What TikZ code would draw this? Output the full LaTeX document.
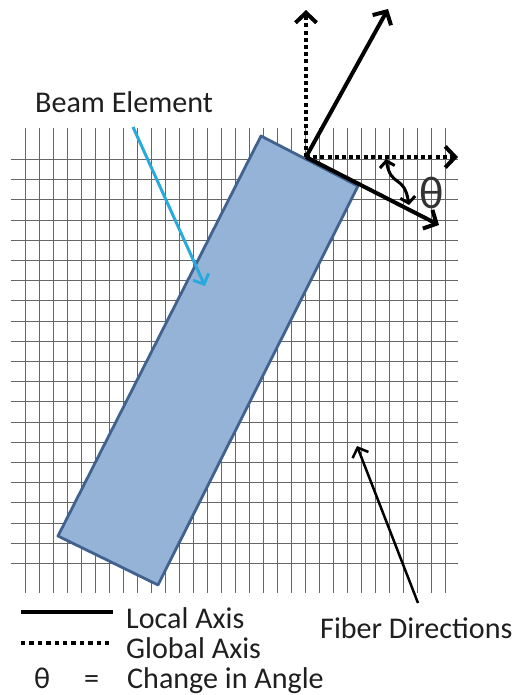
\documentclass[tikz,border=0pt]{standalone}
\usepackage{fontspec}
\setmainfont{Carlito}
\usetikzlibrary{arrows.meta}
\definecolor{beamfill}{HTML}{95B3D7}
\definecolor{beamedge}{HTML}{41628F}
\definecolor{beamarrow}{HTML}{2AA9DC}
\definecolor{gridline}{HTML}{666666}
\tikzset{
  gridrule/.style={draw=gridline,line width=0.9bp},
  barb/.style={-{Straight Barb[length=10bp,width=21bp,line width=4bp]}},
  localaxis/.style={line width=4bp,barb},
  globalaxis/.style={line width=4bp,dash pattern=on 4bp off 3.2bp,barb},
  label/.style={inner sep=0pt,anchor=base west,text=black!88,font=\fontsize{30.2}{30}\selectfont},
}
\begin{document}
\begin{tikzpicture}[x=1bp,y=-1bp]
\useasboundingbox (0,0) rectangle (514,695);
% grid of fibres
\foreach \i in {0,...,30} \draw[gridrule] ({25.5+14*\i},128) -- ({25.5+14*\i},593);
\foreach \j in {0,...,20} \draw[gridrule] (11,{159.5+20.2*\j}) -- (458,{159.5+20.2*\j});
% beam
\draw[fill=beamfill,draw=beamedge,line width=2.8bp,line join=round] (261,136) -- (358,186) -- (158,585) -- (58,536) -- cycle;
% coordinates
\coordinate (o) at (306,157);
\coordinate (gu) at (306,10);
\coordinate (gr) at (458,157);
\coordinate (lu) at (388,9);
\coordinate (lr) at (439,225);
% axes
\draw[globalaxis] (o) -- (gu);
\draw[globalaxis] (o) -- (gr);
\draw[localaxis] (o) -- (lu);
\draw[localaxis] (o) -- (lr);
% angle mark
\coordinate (aa) at (386,159);
\coordinate (ab) at (409,205);
\draw[line width=3bp,{Straight Barb[length=6bp,width=15bp,line width=3bp]}-{Straight Barb[length=6bp,width=15bp,line width=3bp]}]
  (aa) .. controls (391,188) and (404,174) .. (ab);
\node[inner sep=0pt,text=black!80,font=\fontsize{46}{46}\selectfont] (theta) at (432,193) {θ};
% labels
\node[label] (beam) at (35,113) {Beam Element};
\node[label] (fiber) at (320,638) {Fiber Directions};
\node[label] (local) at (126,628) {Local Axis};
\node[label] (global) at (126,658) {Global Axis};
\node[label] (change) at (127,688) {Change in Angle};
\node[label] (th2) at (34,688) {θ};
\node[label] (eq) at (84,688) {=};
% pointers
\coordinate (ba) at (133,127);
\coordinate (bb) at (205,286);
\draw[draw=beamarrow,line width=3bp,-{Straight Barb[length=8bp,width=17bp,line width=3bp]}] (ba) -- (bb);
\coordinate (fa) at (418,603);
\coordinate (fb) at (357,446);
\draw[draw=black,line width=2.5bp,-{Straight Barb[length=8bp,width=17bp,line width=2.5bp]}] (fa) -- (fb);
% legend
\coordinate (l1) at (21,612);
\coordinate (l2) at (113,612);
\coordinate (g1) at (21,643);
\coordinate (g2) at (109,643);
\draw[line width=4.6bp] (l1) -- (l2);
\draw[line width=4.6bp,dash pattern=on 4.4bp off 4bp] (g1) -- (g2);
\end{tikzpicture}
\end{document}
